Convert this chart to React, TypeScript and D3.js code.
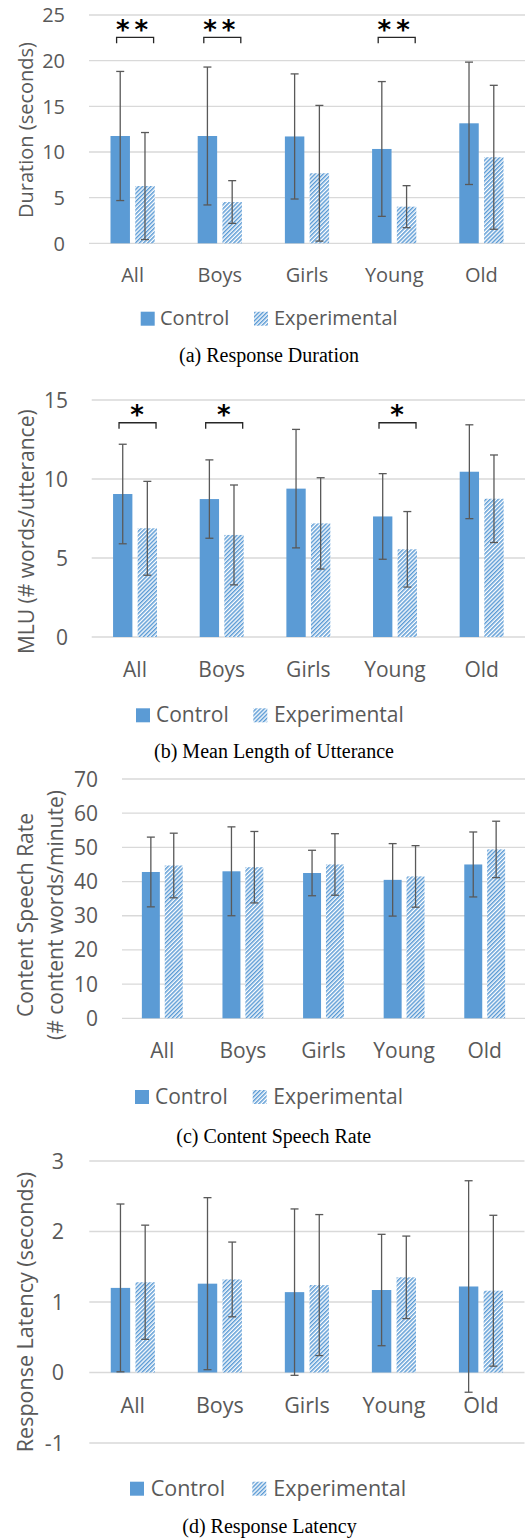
import React from "react";
import * as d3 from "d3";

const categories = ["All", "Boys", "Girls", "Young", "Old"];

// (a) Response Duration
const durationControl = [11.75, 11.75, 11.7, 10.33, 13.14];
const durationControlSD = [7.07, 7.55, 6.85, 7.38, 6.7];
const durationExperimental = [6.27, 4.52, 7.67, 4.01, 9.42];
const durationExperimentalSD = [5.86, 2.34, 7.43, 2.3, 7.88];
const durationTicks = [0, 5, 10, 15, 20, 25];
const durationSig = ["**", "**", "", "**", ""];

// (b) Mean Length of Utterance
const mluControl = [9.05, 8.73, 9.39, 7.63, 10.46];
const mluControlSD = [3.15, 2.48, 3.75, 2.71, 2.97];
const mluExperimental = [6.88, 6.46, 7.19, 5.55, 8.75];
const mluExperimentalSD = [2.97, 3.16, 2.89, 2.39, 2.77];
const mluTicks = [0, 5, 10, 15];
const mluSig = ["*", "*", "", "*", ""];

// (c) Content Speech Rate
const rateControl = [42.8, 43.0, 42.5, 40.5, 45.0];
const rateControlSD = [10.2, 13.0, 6.65, 10.6, 9.5];
const rateExperimental = [44.7, 44.2, 45.0, 41.5, 49.4];
const rateExperimentalSD = [9.45, 10.45, 9.0, 9.0, 8.25];
const rateTicks = [0, 10, 20, 30, 40, 50, 60, 70];
const rateSig = ["", "", "", "", ""];

// (d) Response Latency
const latencyControl = [1.2, 1.26, 1.14, 1.17, 1.22];
const latencyControlSD = [1.19, 1.22, 1.18, 0.79, 1.5];
const latencyExperimental = [1.28, 1.32, 1.24, 1.35, 1.16];
const latencyExperimentalSD = [0.81, 0.53, 1.0, 0.585, 1.07];
const latencyTicks = [-1, 0, 1, 2, 3];
const latencySig = ["", "", "", "", ""];

const seriesNames = ["Control", "Experimental"];

const BLUE = "#5B9BD5";
const TEXT = "#595959";
const GRID = "#D9D9D9";
const ERR = "#595959";
const FONT = "'Open Sans', sans-serif";

const panels = [
  {
    id: "a",
    control: durationControl, controlSD: durationControlSD,
    exp: durationExperimental, expSD: durationExperimentalSD,
    ticks: durationTicks, sig: durationSig, sigLevel: 22.56,
    left: 89, right: 525, top: 15, bottom: 243.3,
    tickRight: 65, fs: 20,
    yLabel: ["Duration (seconds)"], yLabelX: [26], yLabelY: 130,
    catBase: 281.7,
    legTop: 311.7, legX: [140.7, 160, 254, 274], legBase: 325,
    caption: "(a) Response Duration", capX: 269, capBase: 361.7,
  },
  {
    id: "b",
    control: mluControl, controlSD: mluControlSD,
    exp: mluExperimental, expSD: mluExperimentalSD,
    ticks: mluTicks, sig: mluSig, sigLevel: 13.56,
    left: 91.7, right: 525, top: 400, bottom: 637,
    tickRight: 68, fs: 21,
    yLabel: ["MLU (# words/utterance)"], yLabelX: [26], yLabelY: 531.7,
    catBase: 676.7,
    legTop: 708.3, legX: [136, 156, 253.3, 274], legBase: 722.3,
    caption: "(b) Mean Length of Utterance", capX: 274, capBase: 758.3,
  },
  {
    id: "c",
    control: rateControl, controlSD: rateControlSD,
    exp: rateExperimental, expSD: rateExperimentalSD,
    ticks: rateTicks, sig: rateSig, sigLevel: 0,
    left: 122, right: 525, top: 779, bottom: 1018.3,
    tickRight: 98, fs: 21,
    yLabel: ["Content Speech Rate", "(# content words/minute)"], yLabelX: [25, 55], yLabelY: 915,
    catBase: 1057.7,
    legTop: 1090, legX: [135, 155, 252.7, 273.3], legBase: 1104,
    caption: "(c) Content Speech Rate", capX: 273.7, capBase: 1143.3,
  },
  {
    id: "d",
    control: latencyControl, controlSD: latencyControlSD,
    exp: latencyExperimental, expSD: latencyExperimentalSD,
    ticks: latencyTicks, sig: latencySig, sigLevel: 0,
    left: 89.3, right: 524.5, top: 1161, bottom: 1443,
    tickRight: 64, fs: 21.5,
    yLabel: ["Response Latency (seconds)"], yLabelX: [25], yLabelY: 1312,
    catBase: 1412.7,
    legTop: 1481.7, legX: [130, 150.7, 252.3, 273.3], legBase: 1495.7,
    caption: "(d) Response Latency", capX: 269.5, capBase: 1533.3,
  },
];

function Panel({ p }: { p: any }) {
  const x = d3.scaleBand<string>().domain(categories).range([p.left, p.right]).padding(0);
  const ext = d3.extent(p.ticks as number[]) as [number, number];
  const y = d3.scaleLinear().domain(ext).range([p.bottom, p.top]);
  const step = x.step();
  const barW = step * 0.223;
  const gap = step * 0.061;
  const capW = 8;
  const sw = 14;
  return (
    <g>
      {(p.ticks as number[]).map((t) => (
        <g key={"t" + t}>
          <line x1={p.left} x2={p.right} y1={y(t)} y2={y(t)} stroke={GRID} strokeWidth={1.3} />
          <text x={p.tickRight} y={y(t)} dy="0.36em" textAnchor="end" fill={TEXT} fontSize={p.fs} fontFamily={FONT}>
            {t}
          </text>
        </g>
      ))}
      {categories.map((c, i) => {
        const cx = (x(c) as number) + step / 2;
        const bars = [
          { v: p.control[i], sd: p.controlSD[i], x0: cx - gap / 2 - barW, fill: BLUE },
          { v: p.exp[i], sd: p.expSD[i], x0: cx + gap / 2, fill: `url(#hatch)` },
        ];
        return (
          <g key={c}>
            {bars.map((b, j) => (
              <rect key={"b" + j} x={b.x0} width={barW} y={Math.min(y(b.v), y(0))} height={Math.abs(y(0) - y(b.v))} fill={b.fill} />
            ))}
            {bars.map((b, j) => {
              const mx = b.x0 + barW / 2;
              const hi = y(b.v + b.sd);
              const lo = y(b.v - b.sd);
              return (
                <g key={"e" + j} stroke={ERR} strokeWidth={1.3}>
                  <line x1={mx} x2={mx} y1={hi} y2={lo} />
                  <line x1={mx - capW / 2} x2={mx + capW / 2} y1={hi} y2={hi} />
                  <line x1={mx - capW / 2} x2={mx + capW / 2} y1={lo} y2={lo} />
                </g>
              );
            })}
            {p.sig[i] ? (
              <g>
                <path
                  d={`M${cx - 16},${y(p.sigLevel) + 6}V${y(p.sigLevel)}H${cx + 21}V${y(p.sigLevel) + 6}`}
                  fill="none"
                  stroke="#262626"
                  strokeWidth={1.3}
                />
                <text x={cx + 2} y={y(p.sigLevel) + 1.5} textAnchor="middle" fontSize={26} fontWeight="bold" fontFamily="'DejaVu Sans', sans-serif" fill="#000" letterSpacing={p.sig[i].length > 1 ? 5 : 0}>
                  {p.sig[i]}
                </text>
              </g>
            ) : null}
            <text x={cx} y={p.catBase} textAnchor="middle" fill={TEXT} fontSize={p.fs} fontFamily={FONT}>
              {c}
            </text>
          </g>
        );
      })}
      {(p.yLabel as string[]).map((l, k) => (
        <text
          key={"yl" + k}
          transform={`translate(${p.yLabelX[k]},${p.yLabelY}) rotate(-90)`}
          dy="0.36em"
          textAnchor="middle"
          fill={TEXT}
          fontSize={p.fs}
          fontFamily={FONT}
        >
          {l}
        </text>
      ))}
      <rect x={p.legX[0]} y={p.legTop} width={sw} height={sw} fill={BLUE} />
      <text x={p.legX[1]} y={p.legBase} fill={TEXT} fontSize={p.fs} fontFamily={FONT}>
        {seriesNames[0]}
      </text>
      <rect x={p.legX[2]} y={p.legTop} width={sw} height={sw} fill="url(#hatch)" />
      <text x={p.legX[3]} y={p.legBase} fill={TEXT} fontSize={p.fs} fontFamily={FONT}>
        {seriesNames[1]}
      </text>
      <text x={p.capX} y={p.capBase} textAnchor="middle" fill="#000" fontSize={20} fontFamily="'Liberation Serif', 'Times New Roman', serif">
        {p.caption}
      </text>
    </g>
  );
}

export default function App() {
  return (
    <svg width={531} height={1539} style={{ position: "absolute", left: 0, top: 0, background: "#fff" }}>
      <defs>
        <pattern id="hatch" patternUnits="userSpaceOnUse" width={2.9} height={2.9} patternTransform="rotate(45)">
          <rect x={0} y={0} width={2.9} height={2.9} fill="#fff" />
          <rect x={0} y={0} width={1.5} height={2.9} fill={BLUE} />
        </pattern>
      </defs>
      <rect x={0} y={0} width={531} height={1539} fill="#fff" />
      {panels.map((p) => (
        <Panel key={p.id} p={p} />
      ))}
    </svg>
  );
}
